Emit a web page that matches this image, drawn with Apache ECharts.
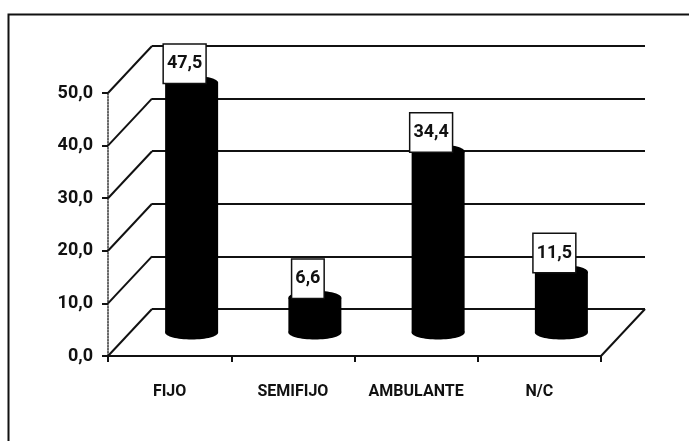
<!DOCTYPE html>
<html><head><meta charset="utf-8">
<script src="https://cdn.jsdelivr.net/npm/echarts@6/dist/echarts.min.js"></script>
<style>html,body{margin:0;padding:0;background:#fff}#c{width:689px;height:441px}</style>
</head><body><div id="c"></div>
<script>
const categories = ['FIJO', 'SEMIFIJO', 'AMBULANTE', 'N/C'];
const values = [47.5, 6.6, 34.4, 11.5];
const yTicks = [0, 10, 20, 30, 40, 50];

const DEPTH_X = 44, DEPTH_Y = -47;
const FONT = 'Roboto, "Liberation Sans", sans-serif';
const fmt = v => v.toFixed(1).replace('.', ',');

const chart = echarts.init(document.getElementById('c'), null, {renderer: 'canvas'});

chart.setOption({
  animation: false,
  backgroundColor: '#fff',
  grid: [
    {left: 108, top: 93, width: 493, height: 263},
    {left: 152, top: 46, width: 493, height: 263}
  ],
  xAxis: [
    {gridIndex: 0, type: 'category', data: categories, boundaryGap: true, z: 5,
     axisLine: {show: true, lineStyle: {color: '#111', width: 2}},
     axisTick: {show: true, length: 6, lineStyle: {color: '#111', width: 2}},
     axisLabel: {interval: 0, color: '#111', fontFamily: FONT, fontWeight: 'bold', fontSize: 16, margin: 28},
     splitLine: {show: false}},
    {gridIndex: 1, type: 'category', data: categories, boundaryGap: true, show: false}
  ],
  yAxis: [
    {gridIndex: 0, type: 'value', min: 0, max: 50, interval: 10,
     axisLine: {show: true, lineStyle: {color: '#333', width: 1.5, type: 'dotted'}},
     axisTick: {show: true, length: 6, lineStyle: {color: '#111', width: 2}},
     axisLabel: {color: '#111', fontFamily: FONT, fontWeight: 'bold', fontSize: 18, margin: 15,
                 formatter: v => fmt(v)},
     splitLine: {show: false}},
    {gridIndex: 1, type: 'value', min: 0, max: 50, interval: 10,
     axisLine: {show: false}, axisTick: {show: false}, axisLabel: {show: false},
     splitLine: {show: true, lineStyle: {color: '#111', width: 2}}}
  ],
  graphic: [
    {type: 'rect', shape: {x: 8.5, y: 14.5, width: 720, height: 460},
     style: {fill: null, stroke: '#111', lineWidth: 2}, z: 100}
  ],
  series: [
    {
      type: 'custom', xAxisIndex: 0, yAxisIndex: 0, z: 1,
      data: yTicks.map(v => [0, v]),
      renderItem(params, api) {
        const v = api.value(1);
        const p = api.coord([0, v]);
        const half = api.size([1, 0])[0] / 2;
        const x0 = p[0] - half;
        return {type: 'line', shape: {x1: x0, y1: p[1], x2: x0 + DEPTH_X, y2: p[1] + DEPTH_Y},
                style: {stroke: '#111', lineWidth: 2}};
      }
    },
    {
      type: 'custom', xAxisIndex: 0, yAxisIndex: 0, z: 1,
      data: [[categories.length - 1, 0]],
      renderItem(params, api) {
        const p = api.coord([api.value(0), 0]);
        const half = api.size([1, 0])[0] / 2;
        const x0 = p[0] + half;
        return {type: 'line', shape: {x1: x0, y1: p[1], x2: x0 + DEPTH_X, y2: p[1] + DEPTH_Y},
                style: {stroke: '#111', lineWidth: 2}};
      }
    },
    {
      type: 'custom', xAxisIndex: 0, yAxisIndex: 0, z: 10,
      data: values.map((v, i) => [i, v]),
      renderItem(params, api) {
        const i = api.value(0), v = api.value(1);
        const base = api.coord([i, 0]), top = api.coord([i, v]);
        const band = api.size([1, 0])[0];
        const w = band * 0.43;
        const cx = base[0] + DEPTH_X / 2;
        const by = base[1] + DEPTH_Y / 2;
        const ty = top[1] + DEPTH_Y / 2;
        const ry = 7;
        return {type: 'group', children: [
          {type: 'rect', shape: {x: cx - w / 2, y: ty, width: w, height: by - ty}, style: {fill: '#000'}},
          {type: 'ellipse', shape: {cx: cx, cy: by, rx: w / 2, ry: ry}, style: {fill: '#000'}},
          {type: 'ellipse', shape: {cx: cx, cy: ty, rx: w / 2, ry: ry}, style: {fill: '#000'}}
        ]};
      }
    },
    {
      type: 'custom', xAxisIndex: 0, yAxisIndex: 0, z: 20,
      data: values.map((v, i) => [i, v]),
      renderItem(params, api) {
        const i = api.value(0), v = api.value(1);
        const base = api.coord([i, 0]), top = api.coord([i, v]);
        const cx = base[0] + DEPTH_X / 2 - 7;
        const ty = top[1] + DEPTH_Y / 2;
        return {type: 'text', z2: 50, style: {
          text: fmt(v), x: cx, y: ty, align: 'center', verticalAlign: 'bottom',
          font: 'bold 18px ' + FONT, fill: '#111',
          backgroundColor: '#fff', borderColor: '#111', borderWidth: 1.5,
          padding: [10, 3, 10, 3]
        }};
      }
    }
  ]
});
</script>
</body></html>
